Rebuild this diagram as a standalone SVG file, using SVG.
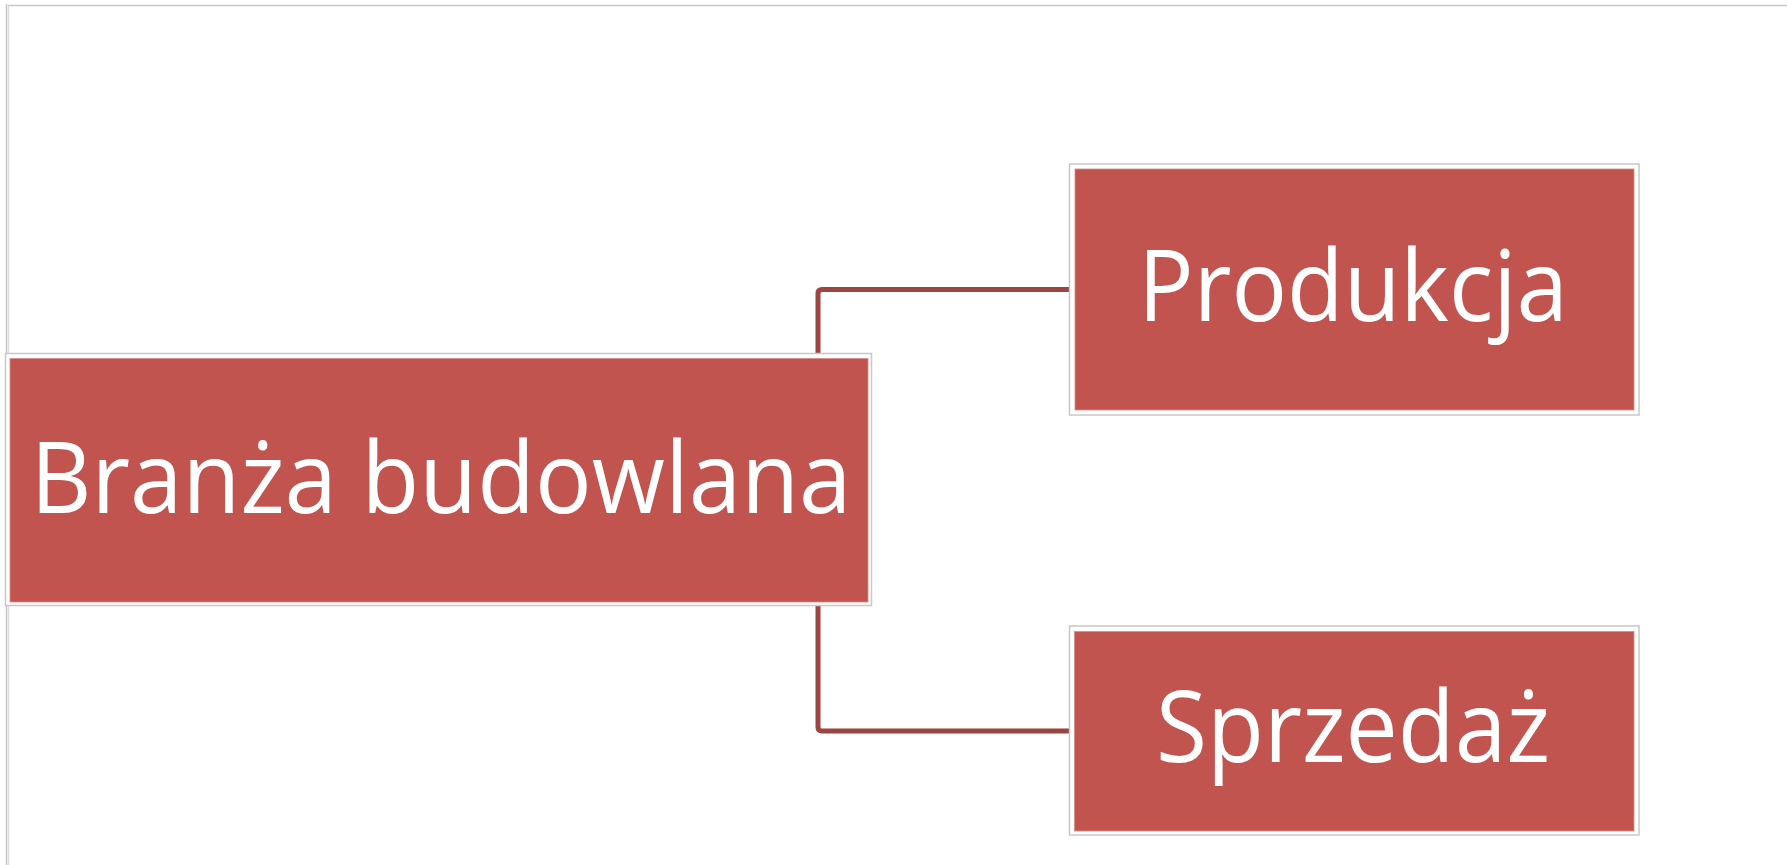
<svg xmlns="http://www.w3.org/2000/svg" width="1787" height="865" viewBox="0 0 1787 865">
<style>
.frame{fill:#ffffff;stroke:#c8c8c8;stroke-width:1.5}
.fill{fill:#c25450;stroke:#d98a86;stroke-width:0.8}
.lbl{font-family:"Open Sans",Lato,"Liberation Sans",sans-serif;font-size:98px;fill:#ffffff;text-anchor:middle}
.conn{fill:none;stroke:#9b4543;stroke-width:5;stroke-linejoin:round}
.page{stroke:#c8c8c8;stroke-width:1.5;fill:none}
</style>
<rect width="1787" height="865" fill="#ffffff"/>
<g id="page">
<line class="page" x1="6.5" y1="4" x2="6.5" y2="865"/>
<line class="page" x1="8.5" y1="5.5" x2="8.5" y2="865" stroke-opacity="0.6"/>
<line class="page" x1="8" y1="5.5" x2="1787" y2="5.5"/>
</g>
<g id="connectors">
<path class="conn" d="M1069,289.5 H822 Q818,289.5 818,293.5 V727 Q818,731 822,731 H1069"/>
</g>
<g id="node-branza">
<rect class="frame" x="5.5" y="353.5" width="866" height="252"/>
<rect class="fill" x="10" y="358.5" width="858" height="243.5"/>
<text class="lbl" x="441" y="512.7" textLength="821" lengthAdjust="spacingAndGlyphs">Branża budowlana</text>
</g>
<g id="node-produkcja">
<rect class="frame" x="1069.5" y="164" width="569.5" height="251"/>
<rect class="fill" x="1075" y="169" width="559" height="241"/>
<text class="lbl" x="1353" y="321" textLength="430" lengthAdjust="spacingAndGlyphs">Produkcja</text>
</g>
<g id="node-sprzedaz">
<rect class="frame" x="1069.5" y="626" width="569.5" height="209"/>
<rect class="fill" x="1074.5" y="631.5" width="559.5" height="199.5"/>
<text class="lbl" x="1353" y="762" textLength="394" lengthAdjust="spacingAndGlyphs">Sprzedaż</text>
</g>
</svg>
